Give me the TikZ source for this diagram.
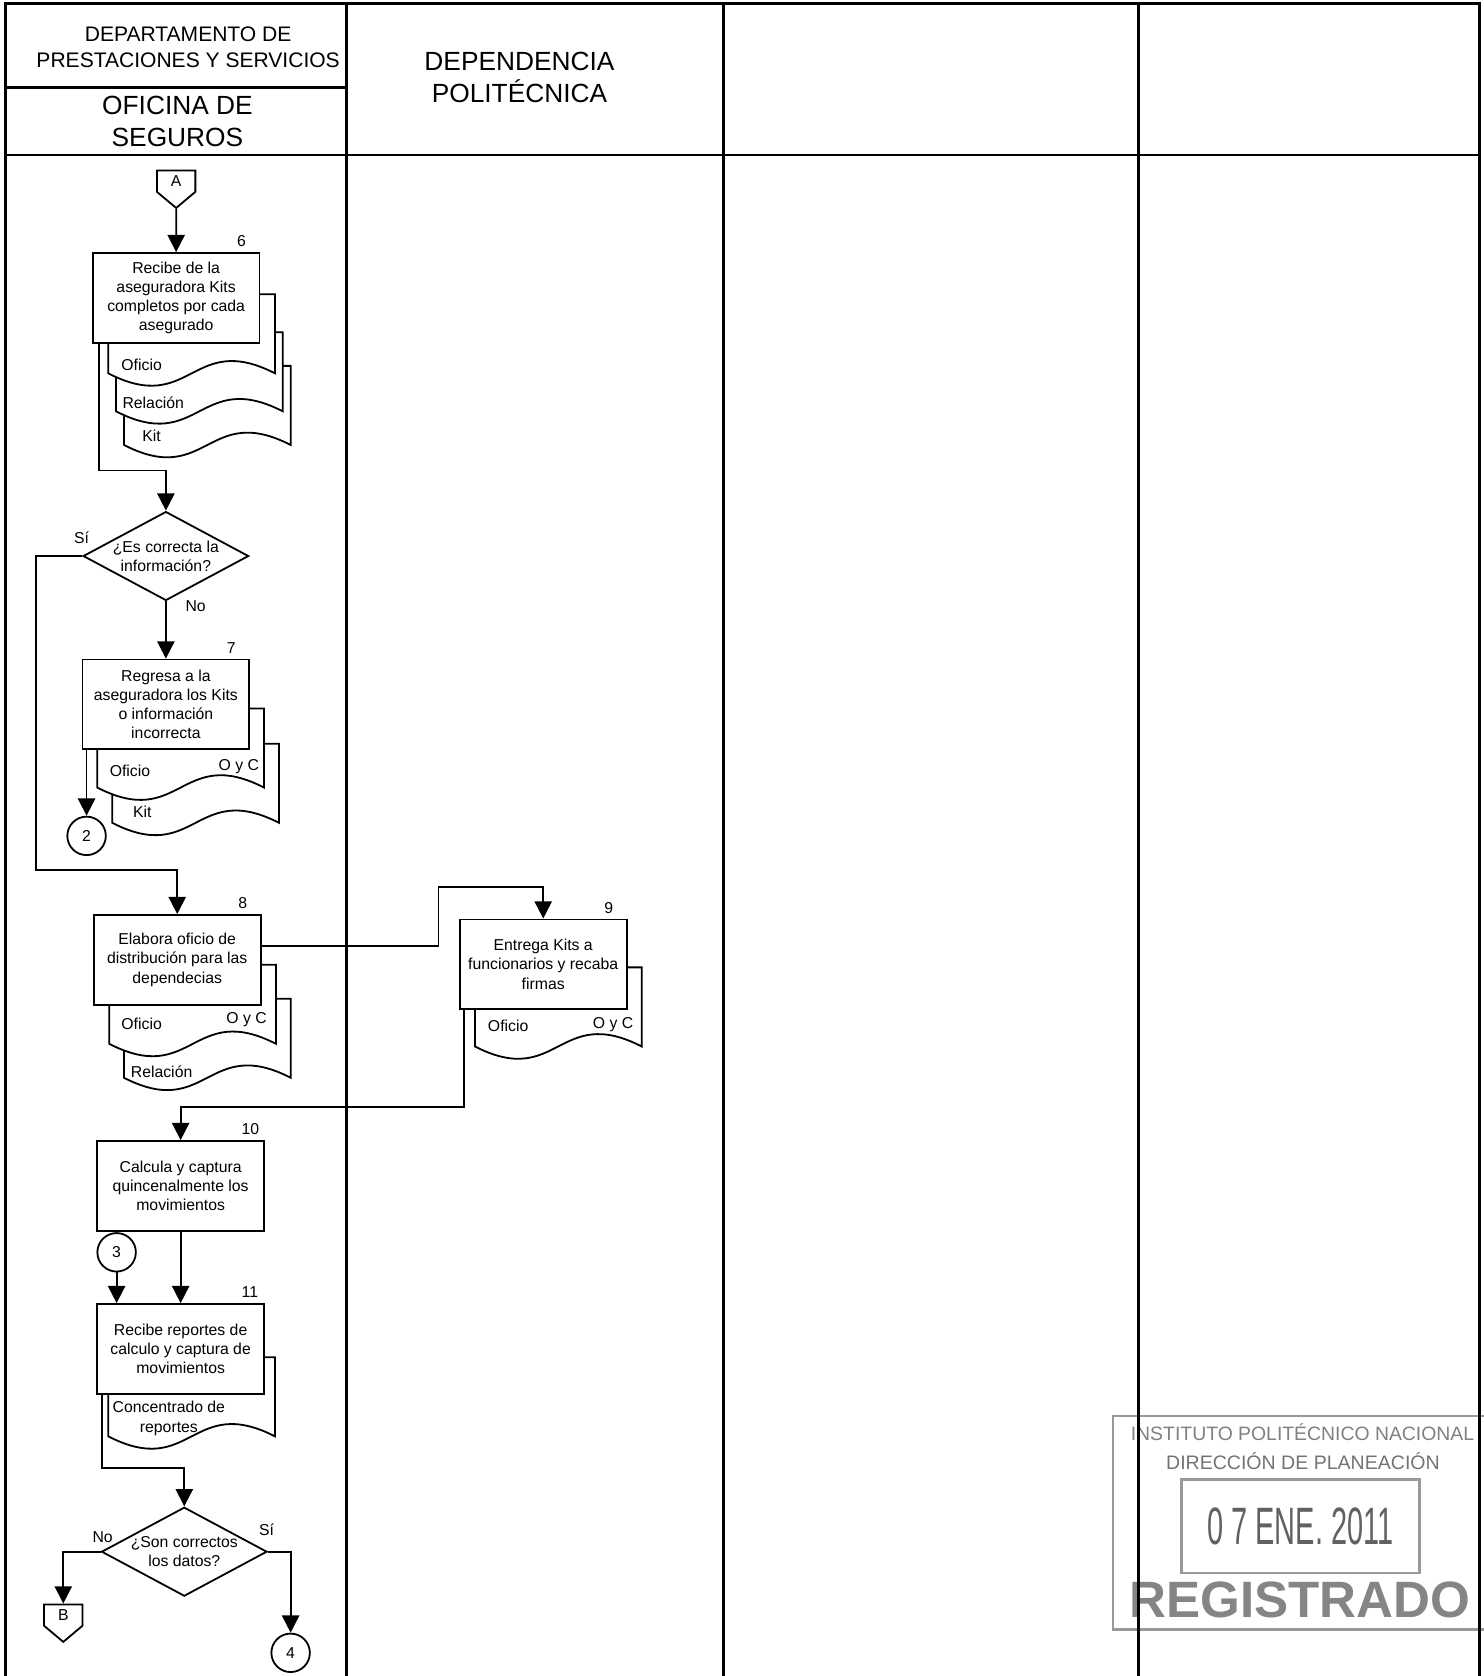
\documentclass[tikz,border=0pt]{standalone}
\usepackage{fontspec}
\setmainfont{Liberation Sans}
\usepackage{graphicx}
\usetikzlibrary{arrows.meta, calc, shapes.geometric, shapes.symbols}

\tikzset{
  proc/.style={draw, fill=white, line width=1.2pt, minimum width=3.9cm, minimum height=2.1cm, inner sep=0pt, align=center},
  decision/.style={draw, fill=white, line width=1.2pt, diamond, minimum width=3.87cm, minimum height=2.08cm, inner sep=0pt},
  onpage/.style={draw, fill=white, line width=1.2pt, circle, minimum size=0.9cm, inner sep=0pt},
  offpage/.style={draw, fill=white, line width=1.2pt, shape=signal, signal to=south, signal from=nowhere, signal pointer angle=100, minimum width=0.9cm, minimum height=0.63cm, inner sep=1pt},
  flow/.style={line width=1.2pt, -{Triangle[length=11.5pt, width=11.5pt]}},
  docline/.style={draw, fill=white, line width=1.2pt},
  stepnum/.style={anchor=base west, inner sep=0pt},
  lane/.style={line width=1.9pt},
  stampline/.style={draw=black!40, line width=1.6pt},
  pics/docsheet/.style={code={
    \path[docline] (0,0) -- (156,0) -- (156,74) .. controls (78,34) and (78,114) .. (0,74) -- cycle;
  }}
}

\begin{document}
\begin{tikzpicture}[x=0.025cm, y=-0.025cm, every node/.append style={font=\fontsize{10.5}{12.8}\selectfont}]
  \useasboundingbox (0,0) rectangle (1388,1568);

  % Stamp (behind the lanes)
  \path[stampline] (1390,1325) -- (1041.3,1325) -- (1041.3,1524.5) -- (1390,1524.5);
  \node[stampline, minimum width=5.57cm, minimum height=2.18cm, inner sep=0pt, text=black!62,
        font=\fontsize{35}{35}\selectfont] (datebox) at (1216.6,1427.9) {\scalebox{0.55}[1]{0 7 ENE. 2011}};
  \node[anchor=west, text=black!50, font=\fontsize{12.9}{14}\selectfont] (ipn) at (1053,1340) {INSTITUTO POLITÉCNICO NACIONAL};
  \node[text=black!55, font=\fontsize{13}{14}\selectfont] (dplan) at (1219,1367) {DIRECCIÓN DE PLANEACIÓN};
  \node[text=black!48, font=\fontsize{34}{36}\bfseries] (reg) at (1216,1497) {REGISTRADO};

  % Lanes
  \draw[lane] (5.5,1568) -- (5.5,3) -- (1384,3) -- (1384,1568);
  \draw[lane] (5.5,145) -- (1384,145);
  \draw[lane] (5.5,82) -- (324,82);
  \draw[lane] (324,3) -- (324,1568);
  \draw[lane] (677,3) -- (677,1568);
  \draw[lane] (1065,3) -- (1065,1568);

  \node[align=center, font=\fontsize{14}{17}\selectfont] (dept) at (176,44) {DEPARTAMENTO DE\\PRESTACIONES Y SERVICIOS};
  \node[align=center, font=\fontsize{17.5}{21.3}\selectfont] (ofi) at (166,114) {OFICINA DE\\SEGUROS};
  \node[align=center, font=\fontsize{17.5}{21.3}\selectfont] (dep) at (486,72) {DEPENDENCIA\\POLITÉCNICA};

  % Documents
  \pic at (116,342.3) {docsheet};
  \pic at (108.5,310.8) {docsheet};
  \pic at (101.3,275.3) {docsheet};
  \pic at (105,695.8) {docsheet};
  \pic at (91,662.8) {docsheet};
  \pic at (116,934.3) {docsheet};
  \pic at (102.3,902.6) {docsheet};
  \pic at (444.3,905) {docsheet};
  \pic at (101.3,1269.8) {docsheet};

  \node (o6) at (132.5,341.4) {Oficio};
  \node (r6) at (143.4,376.6) {Relación};
  \node (k6) at (141.8,407.8) {Kit};
  \node (o7) at (121.6,721.1) {Oficio};
  \node (oc7) at (223.5,717) {O y C};
  \node (k7) at (133.1,759.1) {Kit};
  \node (o8) at (132.5,957.7) {Oficio};
  \node (oc8) at (230.7,954) {O y C};
  \node (r8) at (151.2,1002.3) {Relación};
  \node (o9) at (475.4,960.2) {Oficio};
  \node (oc9) at (573.6,958.6) {O y C};
  \node[align=center] (cr11) at (158,1327) {Concentrado de\\reportes};

  % Steps
  \node[offpage] (A) at (164.8,169.5) {A};
  \node[proc] (b6) at (164.8,278.7) {Recibe de la\\aseguradora Kits\\completos por cada\\asegurado};
  \node[decision] (d1) at (155.2,520.2) {};
  \node[align=center] (q1) at (d1) {¿Es correcta la\\información?};
  \node[proc] (b7) at (155.2,659) {Regresa a la\\aseguradora los Kits\\o información\\incorrecta};
  \node[onpage] (c2) at (81,782) {2};
  \node[proc] (b8) at (165.8,898) {Elabora oficio de\\distribución para las\\dependecias};
  \node[proc] (b9) at (508.2,902.2) {Entrega Kits a\\funcionarios y recaba\\firmas};
  \node[proc] (b10) at (169,1109.5) {Calcula y captura\\quincenalmente los\\movimientos};
  \node[onpage] (c3) at (109.1,1171.6) {3};
  \node[proc] (b11) at (169,1262) {Recibe reportes de\\calculo y captura de\\movimientos};
  \node[decision] (d2) at (172.4,1451.7) {};
  \node[align=center] (q2) at (d2) {¿Son correctos\\los datos?};
  \node[offpage] (B) at (59.2,1511) {B};
  \node[onpage] (c4) at (271.9,1546.3) {4};

  \node[stepnum] (n6) at ($(b6.north east)+(-22,-5)$) {6};
  \node[stepnum] (n7) at ($(b7.north east)+(-22,-5)$) {7};
  \node[stepnum] (n8) at ($(b8.north east)+(-22,-5)$) {8};
  \node[stepnum] (n9) at ($(b9.north east)+(-22,-5)$) {9};
  \node[stepnum] (n10) at ($(b10.north east)+(-22,-5)$) {10};
  \node[stepnum] (n11) at ($(b11.north east)+(-22,-5)$) {11};

  % Connectors
  \draw[flow] (A) -- (b6);
  \draw[flow] ($(b6.south west)+(6.5,0)$) |- ($(d1.north)+(0,-37.5)$) -- (d1);
  \draw[flow] (d1.west) -- ++(-43,0) |- ($(b8.north)+(0,-41)$) -- (b8);
  \draw[flow] (d1) -- (b7);
  \node (si1) at (76.4,503.5) {Sí};
  \node (no1) at (183,566.8) {No};
  \draw[flow] (c2 |- b7.south) -- (c2);
  \draw[flow] ($(b8.east)+(0,-13)$) -- ++(165.5,0) |- ($(b9.north)+(0,-29.5)$) -- (b9);
  \draw[flow] ($(b9.south west)+(4.7,0)$) |- ($(b10.north)+(0,-30.8)$) -- (b10);
  \draw[flow] (b10) -- (b11);
  \draw[flow] (c3) -- (c3 |- b11.north);
  \draw[flow] ($(b11.south west)+(5,0)$) |- ($(d2.north)+(0,-35.8)$) -- (d2);
  \draw[flow] (d2.west) -| (B);
  \draw[flow] (d2.east) -| (c4);
  \node (no2) at (96,1437.8) {No};
  \node (si2) at (249.4,1431.6) {Sí};
\end{tikzpicture}
\end{document}
